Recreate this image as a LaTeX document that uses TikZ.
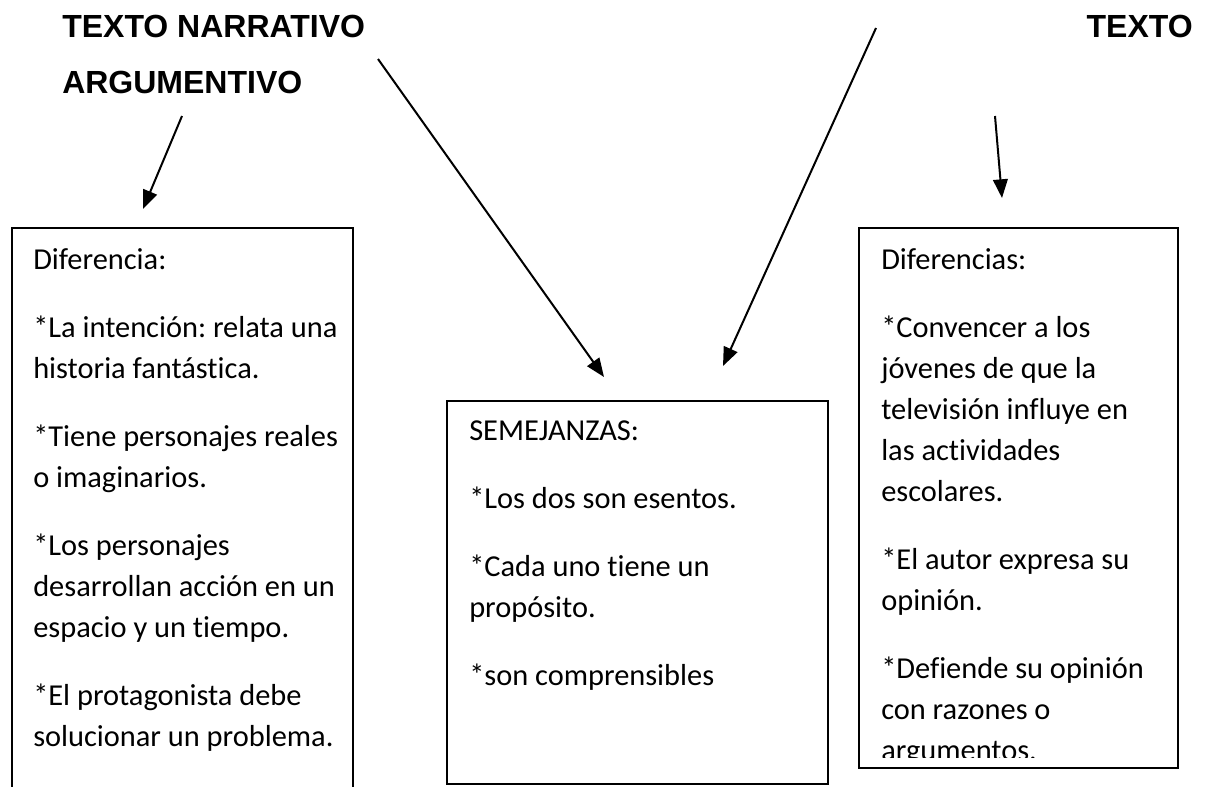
\documentclass[tikz,border=0pt]{standalone}
\usepackage{fontspec}
\setmainfont{Carlito}[Ligatures={NoCommon}]
\newfontfamily\titlefont{Liberation Sans}
\usetikzlibrary{arrows.meta}
\frenchspacing
\tikzset{
  boxline/.style={draw=black, line width=1.4pt},
  bodytext/.style={anchor=base west, inner sep=0pt},
  titletext/.style={inner sep=0pt, font=\titlefont\bfseries\fontsize{24}{27}\selectfont},
  conn/.style={line width=1.5pt, -{Triangle[length=14pt,width=11pt]}}
}
\newcommand{\pgap}{\\[20.25pt]}
\newcommand{\boxtext}[1]{\parbox[t]{240pt}{\fontsize{22.8}{30.75}\selectfont\raggedright\frenchspacing #1}}
\begin{document}
\begin{tikzpicture}[x=0.75pt,y=-0.75pt]
\clip (0,0) rectangle (1210,786);
\fill[white] (0,0) rectangle (1210,786);

% titles
\node[titletext, anchor=base west] (tnarr) at (62,37) {TEXTO NARRATIVO};
\node[titletext, anchor=base west] (targ) at (62,93) {ARGUMENTIVO};
\node[titletext, anchor=base east] (ttexto) at (1193,37) {TEXTO};

% boxes
\draw[boxline] (12,228) rectangle (353,830);
\draw[boxline] (447,401) rectangle (828,784);
\draw[boxline] (859,228) rectangle (1178,768);

% box texts
\node[bodytext] (left) at (33,269) {\boxtext{Diferencia:\pgap
*La intención: relata una\\ historia fantástica.\pgap
*Tiene personajes reales\\ o imaginarios.\pgap
*Los personajes\\ desarrollan acción en un\\ espacio y un tiempo.\pgap
*El protagonista debe\\ solucionar un problema.}};

\node[bodytext] (mid) at (469,440) {\boxtext{SEMEJANZAS:\pgap
*Los dos son esentos.\pgap
*Cada uno tiene un\\ propósito.\pgap
*son comprensibles}};

\begin{scope}
\clip (860,229) rectangle (1177,757);
\node[bodytext] (right) at (881,269) {\boxtext{Diferencias:\pgap
*Convencer a los\\ jóvenes de que la\\ televisión influye en\\ las actividades\\ escolares.\pgap
*El autor expresa su\\ opinión.\pgap
*Defiende su opinión\\ con razones o\\ argumentos.}};
\end{scope}

% connector end points
\coordinate (a1s) at (182,116);
\coordinate (a1e) at (143,209);
\coordinate (a2s) at (378,59);
\coordinate (a2e) at (604,377);
\coordinate (a3s) at (876,28);
\coordinate (a3e) at (723,366);
\coordinate (a4s) at (995,116);
\coordinate (a4e) at (1002,198);

\draw[conn] (a1s) -- (a1e);
\draw[conn] (a2s) -- (a2e);
\draw[conn] (a3s) -- (a3e);
\draw[conn] (a4s) -- (a4e);
\end{tikzpicture}
\end{document}
